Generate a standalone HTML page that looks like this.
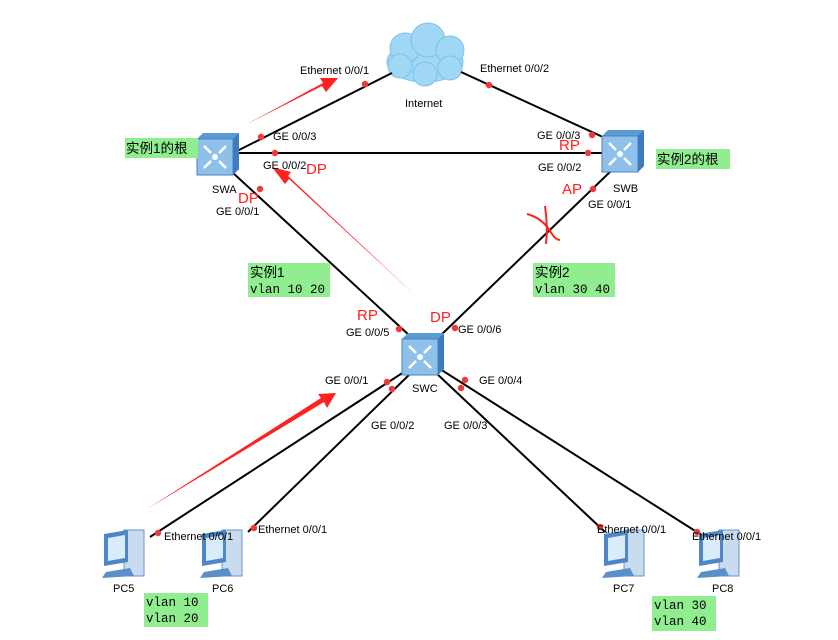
<!DOCTYPE html>
<html><head><meta charset="utf-8"><style>
body{margin:0;background:#fff;}
svg{display:block;font-family:"Liberation Sans","Noto Sans CJK SC",sans-serif;}
.l{font-size:11px;fill:#000;}
.r{font-size:15px;fill:#ff2020;}
.m{font-family:"Liberation Mono","Noto Sans CJK SC",monospace;font-size:12.5px;fill:#000;}
</style></head><body>
<svg width="838" height="640" viewBox="0 0 838 640" xmlns="http://www.w3.org/2000/svg">
<defs>
<g id="sw">
<path d="M0 6 L6 0 L42 0 L42 36 L36 42 L0 42 Z" fill="#5b9bd5"/>
<rect x="0" y="6" width="36" height="36" fill="#8fc0ea" stroke="#4a86c0"/>
<path d="M36 6 L42 0 L42 36 L36 42 Z" fill="#3f7cbf"/>
<circle cx="18" cy="24" r="3" fill="#fff"/>
<path d="M7 13 L14 20 M29 13 L22 20 M7 35 L14 28 M29 35 L22 28" stroke="#fff" stroke-width="2.5"/>
</g>
<g id="pc">
<rect x="24" y="2" width="20" height="46" fill="#c9dcef" stroke="#6c93c4"/>
<path d="M4 6 L28 2 L28 34 L4 38 Z" fill="#4f86c6"/>
<path d="M8 10 L25 7 L25 30 L8 33 Z" fill="#d9ecfb"/>
<path d="M6 44 L30 40 L34 48 L2 50 Z" fill="#5b8fca"/>
</g>
<g id="dot"><circle r="3.2" fill="#f03a3a"/></g>
</defs>

<!-- cloud -->
<g fill="#9fd7f5" stroke="#7cc2ea">
<ellipse cx="425" cy="62" rx="38" ry="20"/>
<circle cx="405" cy="48" r="15"/><circle cx="428" cy="40" r="17"/><circle cx="450" cy="50" r="14"/>
<circle cx="400" cy="66" r="12"/><circle cx="450" cy="68" r="12"/><circle cx="425" cy="74" r="12"/>
</g>
<text class="l" x="405" y="107">Internet</text>

<g stroke="#000" stroke-width="2" fill="none">
<line x1="237" y1="151" x2="392" y2="73"/>
<line x1="461" y1="72" x2="605" y2="138"/>
<line x1="237" y1="153" x2="602" y2="153"/>
<line x1="232" y1="172" x2="410" y2="336"/>
<line x1="612" y1="170" x2="440" y2="336"/>
<line x1="407" y1="370" x2="150" y2="537"/>
<line x1="412" y1="372" x2="248" y2="532"/>
<line x1="435" y1="372" x2="605" y2="532"/>
<line x1="440" y1="369" x2="700" y2="534"/>
</g>

<use href="#sw" x="197" y="133"/>
<use href="#sw" x="602" y="130"/>
<use href="#sw" x="402" y="333"/>
<use href="#pc" x="100" y="528"/>
<use href="#pc" x="198" y="528"/>
<use href="#pc" x="600" y="528"/>
<use href="#pc" x="695" y="528"/>

<use href="#dot" x="365" y="84"/><use href="#dot" x="489" y="85"/>
<use href="#dot" x="261" y="137"/><use href="#dot" x="592" y="135"/>
<use href="#dot" x="275" y="153"/><use href="#dot" x="588" y="153"/>
<use href="#dot" x="260" y="189"/><use href="#dot" x="593" y="189"/>
<use href="#dot" x="399" y="329"/><use href="#dot" x="455" y="328"/>
<use href="#dot" x="387" y="382"/><use href="#dot" x="392" y="389"/>
<use href="#dot" x="461" y="388"/><use href="#dot" x="465" y="380"/>
<use href="#dot" x="158" y="533"/><use href="#dot" x="254" y="528"/>
<use href="#dot" x="600" y="527"/><use href="#dot" x="697" y="532"/>

<!-- red arrows (tapered) -->
<g fill="#ff2020">
<path d="M247 124 L322 86 L326 92 L338 78 L320 78 L323 83 Z"/>
<path d="M416 296 L289 179 L285 184 L272 167 L291 172 L288 176 Z"/>
<path d="M147 509 L324 402 L327 408 L336 393 L318 394 L321 398 Z"/>
</g>
<g stroke="#ff2020" stroke-width="2" fill="none">
<path d="M527 214 Q543 218 552 234 Q556 240 560 240"/>
<path d="M545 206 Q548 226 546 244"/>
</g>

<!-- labels -->
<text class="l" x="300" y="74">Ethernet 0/0/1</text>
<text class="l" x="480" y="72">Ethernet 0/0/2</text>
<text class="l" x="273" y="140">GE 0/0/3</text>
<text class="l" x="537" y="139">GE 0/0/3</text>
<text class="l" x="263" y="169">GE 0/0/2</text>
<text class="l" x="538" y="171">GE 0/0/2</text>
<text class="l" x="212" y="193">SWA</text>
<text class="l" x="613" y="192">SWB</text>
<text class="l" x="216" y="215">GE 0/0/1</text>
<text class="l" x="588" y="208">GE 0/0/1</text>
<text class="l" x="346" y="336">GE 0/0/5</text>
<text class="l" x="458" y="333">GE 0/0/6</text>
<text class="l" x="325" y="384">GE 0/0/1</text>
<text class="l" x="479" y="384">GE 0/0/4</text>
<text class="l" x="412" y="392">SWC</text>
<text class="l" x="371" y="429">GE 0/0/2</text>
<text class="l" x="444" y="429">GE 0/0/3</text>
<text class="l" x="164" y="540">Ethernet 0/0/1</text>
<text class="l" x="258" y="533">Ethernet 0/0/1</text>
<text class="l" x="597" y="533">Ethernet 0/0/1</text>
<text class="l" x="692" y="540">Ethernet 0/0/1</text>
<text class="l" x="113" y="592">PC5</text>
<text class="l" x="212" y="592">PC6</text>
<text class="l" x="613" y="592">PC7</text>
<text class="l" x="712" y="592">PC8</text>

<text class="r" x="306" y="174">DP</text>
<text class="r" x="238" y="203">DP</text>
<text class="r" x="559" y="150">RP</text>
<text class="r" x="562" y="194">AP</text>
<text class="r" x="357" y="320">RP</text>
<text class="r" x="430" y="322">DP</text>

<!-- green notes -->
<rect x="125" y="138" width="73" height="20" fill="#90ee90"/>
<text x="126" y="153" font-size="13.5">实例1的根</text>
<rect x="656" y="149" width="74" height="20" fill="#90ee90"/>
<text x="657" y="164" font-size="13.5">实例2的根</text>
<rect x="248" y="263" width="82" height="34" fill="#90ee90"/>
<text x="250" y="277" font-size="13.5">实例1</text>
<text class="m" x="250" y="293">vlan 10 20</text>
<rect x="533" y="263" width="82" height="34" fill="#90ee90"/>
<text x="535" y="277" font-size="13.5">实例2</text>
<text class="m" x="535" y="293">vlan 30 40</text>
<rect x="144" y="593" width="64" height="34" fill="#90ee90"/>
<text class="m" x="146" y="606">vlan 10</text>
<text class="m" x="146" y="622">vlan 20</text>
<rect x="652" y="596" width="64" height="35" fill="#90ee90"/>
<text class="m" x="654" y="609">vlan 30</text>
<text class="m" x="654" y="625">vlan 40</text>
</svg>
</body></html>
